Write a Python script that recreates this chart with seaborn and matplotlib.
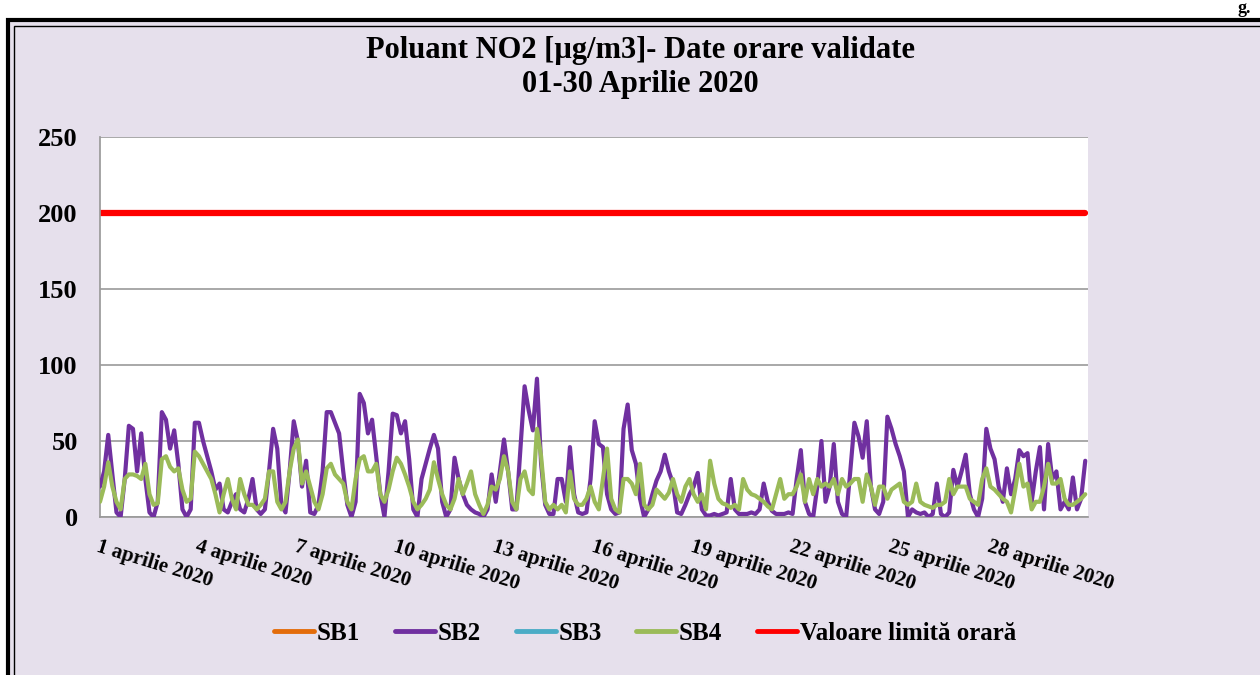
import numpy as np
import pandas as pd
import matplotlib.pyplot as plt
import seaborn as sns
from matplotlib.patches import Rectangle
from matplotlib.lines import Line2D

# valori la 3 ore, 01-30 aprilie 2020 (8 pe zi)
sb2 = [
    20, 30, 54, 28, 3, 0, 25, 60,
    58, 30, 55, 25, 3, 0, 10, 69,
    64, 45, 57, 35, 5, 0, 5, 62,
    62, 50, 40, 30, 18, 22, 5, 3,
    10, 15, 5, 3, 12, 25, 5, 2,
    5, 30, 58, 45, 8, 3, 30, 63,
    50, 20, 37, 3, 2, 8, 30, 69,
    69, 62, 55, 30, 8, 0, 10, 81,
    75, 55, 64, 40, 15, 0, 30, 68,
    67, 55, 63, 38, 5, 0, 25, 35,
    45, 54, 45, 10, 0, 5, 39, 25,
    15, 8, 5, 3, 2, 0, 5, 28,
    10, 30, 51, 30, 5, 5, np.nan, 86,
    70, 57, 91, 35, 8, 2, 2, 25,
    25, 10, 46, 15, 3, 2, 3, 25,
    63, 48, 46, 15, 5, 2, 3, 58,
    74, 44, 35, 12, 0, 5, 15, 24,
    30, 41, 30, 22, 3, 2, 8, 15,
    20, 29, 5, 1, 1, 2, 1, 2,
    3, 25, 5, 2, 2, 2, 3, 2,
    5, 22, 10, 4, 2, 2, 2, 3,
    2, 25, 44, 10, 2, 0, 20, 50,
    10, 20, 48, 10, 2, 0, 30, 62,
    53, 39, 63, 20, 5, 2, 10, 66,
    58, 48, 40, 30, 0, 5, 3, 2,
    3, 0, 2, 22, 2, 0, 3, 31,
    20, 30, 41, 15, 5, 0, 12, 58,
    45, 38, 20, 10, 32, 15, 25, 44,
    40, 42, 10, 30, 46, 5, 48, 25,
    30, 5, 10, 5, 26, 5, 12, 37,
]
sb4 = [
    10, 20, 36, 20, 10, 5, 25, 28,
    28, 27, 25, 35, 15, 8, 9, 38,
    40, 33, 30, 32, 18, 10, 12, 43,
    40, 35, 30, 25, 15, 3, 15, 25,
    12, 5, 25, 15, 8, 8, 5, 8,
    12, 30, 30, 10, 5, 10, 30, 45,
    51, 22, 30, 20, 10, 5, 15, 32,
    35, 28, 25, 22, 10, 5, 25, 38,
    40, 30, 30, 35, 15, 10, 18, 30,
    39, 35, 28, 20, 10, 5, 8, 12,
    18, 36, 25, 15, 8, 5, 12, 25,
    15, 22, 30, 15, 8, 2, 8, 20,
    18, 25, 40, 30, 10, 5, 25, 30,
    18, 15, 58, 40, 10, 5, 8, 5,
    8, 3, 30, 12, 8, 8, 12, 20,
    10, 5, 25, 45, 12, 5, 3, 25,
    25, 22, 15, 35, 8, 5, 8, 18,
    15, 12, 16, 25, 15, 10, 20, 25,
    15, 10, 15, 5, 37, 22, 12, 9,
    8, 6, 8, 5, 25, 18, 15, 14,
    12, 10, 7, 5, 15, 25, 12, 15,
    15, 20, 28, 10, 25, 15, 25, 20,
    22, 20, 25, 15, 25, 20, 22, 25,
    25, 10, 28, 20, 8, 20, 20, 12,
    18, 20, 22, 10, 8, 10, 22, 10,
    8, 7, 6, 8, 8, 10, 25, 15,
    20, 20, 20, 12, 10, 8, 25, 32,
    20, 18, 15, 12, 10, 3, 18, 35,
    20, 22, 5, 10, 10, 20, 35, 22,
    22, 25, 12, 8, 8, 10, 12, 15,
]
limit_value = 200
tick_days = [1, 4, 7, 10, 13, 16, 19, 22, 25, 28]
y_ticks = [0, 50, 100, 150, 200, 250]

series_names = ['SB1', 'SB2', 'SB3', 'SB4', 'Valoare limită orară']
colors = {'SB1': '#E36C0A', 'SB2': '#7030A0', 'SB3': '#4BACC6',
          'SB4': '#9BBB59', 'Valoare limită orară': '#FF0000'}

hours = np.arange(0, 720, 3)
df = pd.DataFrame({'ora': hours, 'SB2': sb2, 'SB4': sb4})
df['limita'] = limit_value

sns.set_theme(style='white')
plt.rcParams['font.family'] = ['Liberation Serif', 'DejaVu Serif']
plt.rcParams['font.weight'] = 'bold'
plt.rcParams['text.color'] = 'black'
plt.rcParams['xtick.color'] = 'black'
plt.rcParams['ytick.color'] = 'black'

bg = '#E6E0EC'
fig = plt.figure(figsize=(12.6, 6.75), dpi=100)
fig.patch.set_facecolor('white')

# chenarul dublu
fig.patches.append(Rectangle((8 / 1260, -0.05), 1.2, (665 - 10) / 675 + 0.05,
                             transform=fig.transFigure, facecolor=bg,
                             edgecolor='black', lw=3, zorder=-2))
fig.patches.append(Rectangle((14 / 1260, -0.05), 1.2, (665 - 16) / 675 + 0.05,
                             transform=fig.transFigure, facecolor='none',
                             edgecolor='black', lw=1, zorder=-1))

ax = fig.add_axes([100 / 1260, (675 - 517) / 675, 988 / 1260, 380 / 675])
ax.set_zorder(3)
ax.set_facecolor('white')

sns.lineplot(data=df, x='ora', y='limita', ax=ax, color=colors['Valoare limită orară'],
             lw=4.5, estimator=None, sort=False, zorder=2)
sns.lineplot(data=df, x='ora', y='SB2', ax=ax, color=colors['SB2'],
             lw=3.0, estimator=None, sort=False, zorder=3)
sns.lineplot(data=df, x='ora', y='SB4', ax=ax, color=colors['SB4'],
             lw=3.0, estimator=None, sort=False, zorder=4)

ax.set_xlim(0, 719)
ax.set_ylim(0, 250)
ax.set_yticks(y_ticks)
ax.set_yticklabels([str(v) for v in y_ticks], fontsize=19, fontweight='bold')
ax.yaxis.grid(True, color='#9A9A9A', lw=1.2)
ax.set_axisbelow(True)
ax.set_xticks([(d - 1) * 24 for d in tick_days])
ax.set_xticklabels([f'{d} aprilie 2020' for d in tick_days], rotation=-17,
                   ha='left', va='top', rotation_mode='anchor',
                   fontsize=15, fontweight='bold')
ax.tick_params(axis='x', pad=14, length=0)
ax.tick_params(axis='y', pad=16, length=0)
ax.set_xlabel('')
ax.set_ylabel('')
for side in ['top', 'right']:
    ax.spines[side].set_visible(False)
ax.spines['left'].set_color('#9A9A9A')
ax.spines['bottom'].set_color('#9A9A9A')

fig.text(0.508, 0.9, 'Poluant NO2 [µg/m3]- Date orare validate\n01-30 Aprilie 2020',
         ha='center', va='center', fontsize=22, fontweight='bold',
         linespacing=1.25)
fig.text(0.982, 1.0, 'g.', ha='left', va='top', fontsize=13,
         fontweight='bold')

handles = [Line2D([], [], color=colors[n], lw=3.5) for n in series_names]
fig.legend(handles, series_names, loc='center', bbox_to_anchor=(0.512, 0.062),
           ncol=5, frameon=False, handlelength=1.6, handletextpad=0.1,
           columnspacing=1.4, prop={'size': 18, 'weight': 'bold'})

fig.savefig('out.png', dpi=100, facecolor=fig.get_facecolor())
